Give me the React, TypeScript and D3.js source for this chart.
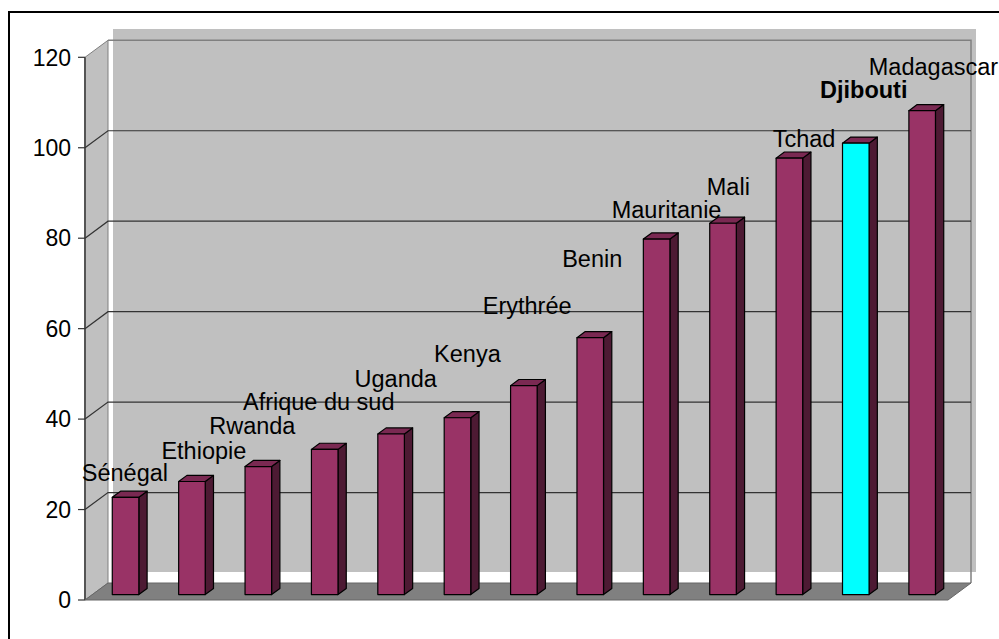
import React, { useEffect, useRef } from 'react';
import * as d3 from 'd3';

// pays classés, valeurs
const countries = ['Sénégal', 'Ethiopie', 'Rwanda', 'Afrique du sud', 'Uganda', 'Kenya', 'Erythrée', 'Benin', 'Mauritanie', 'Mali', 'Tchad', 'Djibouti', 'Madagascar'];
const values = [21.5, 25, 28.3, 32.1, 35.5, 39.1, 46.2, 56.8, 78.6, 82.1, 96.5, 99.8, 107];
const highlighted = ['Djibouti'];
const yTicks = [0, 20, 40, 60, 80, 100, 120];

// ancrage des étiquettes (en unités de données : valeur et décalage en fraction de catégorie)
const labelValues = [25, 30, 35.4, 40.7, 46, 51.5, 62, 72.5, 83.2, 88.4, 99, 109.7, 114.9];
const labelShift = [-0.01, 0.18, -0.09, -0.09, 0.07, 0.15, 0.05, 0.03, 0.15, 0.08, 0.22, 0.12, 0.17];

const App: React.FC = () => {
    const svgRef = useRef<SVGSVGElement | null>(null);

    const width = 999;
    const height = 639;

    const plotLeft = 85;
    const plotRight = 948;
    const depthX = 23;
    const depthY = 17;
    const barFront = 0.32;
    const barBack = 0.68;

    useEffect(() => {
        const svg = d3.select(svgRef.current);
        svg.selectAll('*').remove();

        const x = d3.scaleBand<string>()
            .domain(countries)
            .range([plotLeft, plotRight])
            .paddingInner(0.6)
            .paddingOuter(0.3);
        const y = d3.scaleLinear().domain([0, 120]).range([600, 57.3]);

        const font = 'Liberation Sans, Arial, sans-serif';

        // cadre
        svg.append('rect')
            .attr('x', 9).attr('y', 12)
            .attr('width', 1000).attr('height', 700)
            .attr('fill', 'white')
            .attr('stroke', 'black').attr('stroke-width', 2);

        // fond gris de la zone de traçage
        svg.append('rect')
            .attr('x', 113).attr('y', 29)
            .attr('width', 976 - 113).attr('height', 572 - 29)
            .attr('fill', '#c0c0c0');

        const backLeft = plotLeft + depthX;
        const backRight = plotRight + depthX;
        const y0 = y(0);
        const yTop = y(120);

        // paroi gauche
        svg.append('polygon')
            .attr('points', [[plotLeft, yTop], [backLeft, yTop - depthY], [backLeft, y0 - depthY], [plotLeft, y0]].map(p => p.join(',')).join(' '))
            .attr('fill', '#c0c0c0')
            .attr('stroke', '#808080').attr('stroke-width', 1);

        svg.append('line')
            .attr('x1', plotLeft).attr('x2', plotLeft)
            .attr('y1', yTop).attr('y2', y0)
            .attr('stroke', '#555').attr('stroke-width', 2);

        // bords de la paroi du fond
        svg.append('polyline')
            .attr('points', [[backLeft, yTop - depthY], [backRight, yTop - depthY], [backRight, y0 - depthY]].map(p => p.join(',')).join(' '))
            .attr('fill', 'none')
            .attr('stroke', '#808080').attr('stroke-width', 1.5);

        // quadrillage
        yTicks.filter(t => t > 0 && t < 120).forEach(t => {
            svg.append('polyline')
                .attr('points', [[plotLeft, y(t)], [backLeft, y(t) - depthY], [backRight, y(t) - depthY]].map(p => p.join(',')).join(' '))
                .attr('fill', 'none')
                .attr('stroke', '#333').attr('stroke-width', 1.2);
        });

        // sol
        svg.append('polygon')
            .attr('points', [[plotLeft, y0], [backLeft, y0 - depthY], [backRight, y0 - depthY], [plotRight, y0]].map(p => p.join(',')).join(' '))
            .attr('fill', '#808080')
            .attr('stroke', '#666').attr('stroke-width', 1);

        // axe vertical
        const axis = svg.append('g');
        yTicks.forEach(t => {
            axis.append('line')
                .attr('x1', plotLeft - 7).attr('x2', plotLeft)
                .attr('y1', y(t)).attr('y2', y(t))
                .attr('stroke', '#333').attr('stroke-width', 1.2);
            axis.append('text')
                .attr('x', 71).attr('y', y(t))
                .attr('dy', '0.36em')
                .attr('text-anchor', 'end')
                .attr('font-family', font)
                .attr('font-size', 23)
                .attr('fill', 'black')
                .text(t);
        });

        // barres
        const bw = x.bandwidth();
        const ddx = depthX * (barBack - barFront);
        const ddy = depthY * (barBack - barFront);
        countries.forEach((c, i) => {
            const x0 = (x(c) as number) + depthX * barFront;
            const x1 = x0 + bw;
            const top = y(values[i]) - depthY * barFront;
            const bottom = y0 - depthY * barFront;
            const g = svg.append('g')
                .attr('stroke', 'black').attr('stroke-width', 1.2).attr('stroke-linejoin', 'round');
            g.append('polygon')
                .attr('points', [[x1, top], [x1 + ddx, top - ddy], [x1 + ddx, bottom - ddy], [x1, bottom]].map(p => p.join(',')).join(' '))
                .attr('fill', '#4d1a33');
            g.append('polygon')
                .attr('points', [[x0, top], [x0 + ddx, top - ddy], [x1 + ddx, top - ddy], [x1, top]].map(p => p.join(',')).join(' '))
                .attr('fill', '#7a2952');
            g.append('rect')
                .attr('x', x0).attr('y', top)
                .attr('width', bw).attr('height', bottom - top)
                .attr('fill', highlighted.includes(c) ? '#00ffff' : '#993366');
        });

        // étiquettes
        countries.forEach((c, i) => {
            const cx = (x(c) as number) + depthX * barFront + bw / 2 + labelShift[i] * x.step();
            svg.append('text')
                .attr('x', cx)
                .attr('y', y(labelValues[i]) - depthY * barFront)
                .attr('text-anchor', 'middle')
                .attr('font-family', font)
                .attr('font-size', 23.5)
                .attr('font-weight', highlighted.includes(c) ? 'bold' : 'normal')
                .attr('fill', 'black')
                .text(c);
        });
    }, []);

    return (
        <svg
            ref={svgRef}
            viewBox={`0 0 ${width} ${height}`}
            width={width}
            height={height}
            style={{ position: 'absolute', left: 0, top: 0, background: 'white' }}
        ></svg>
    );
};

export default App;
